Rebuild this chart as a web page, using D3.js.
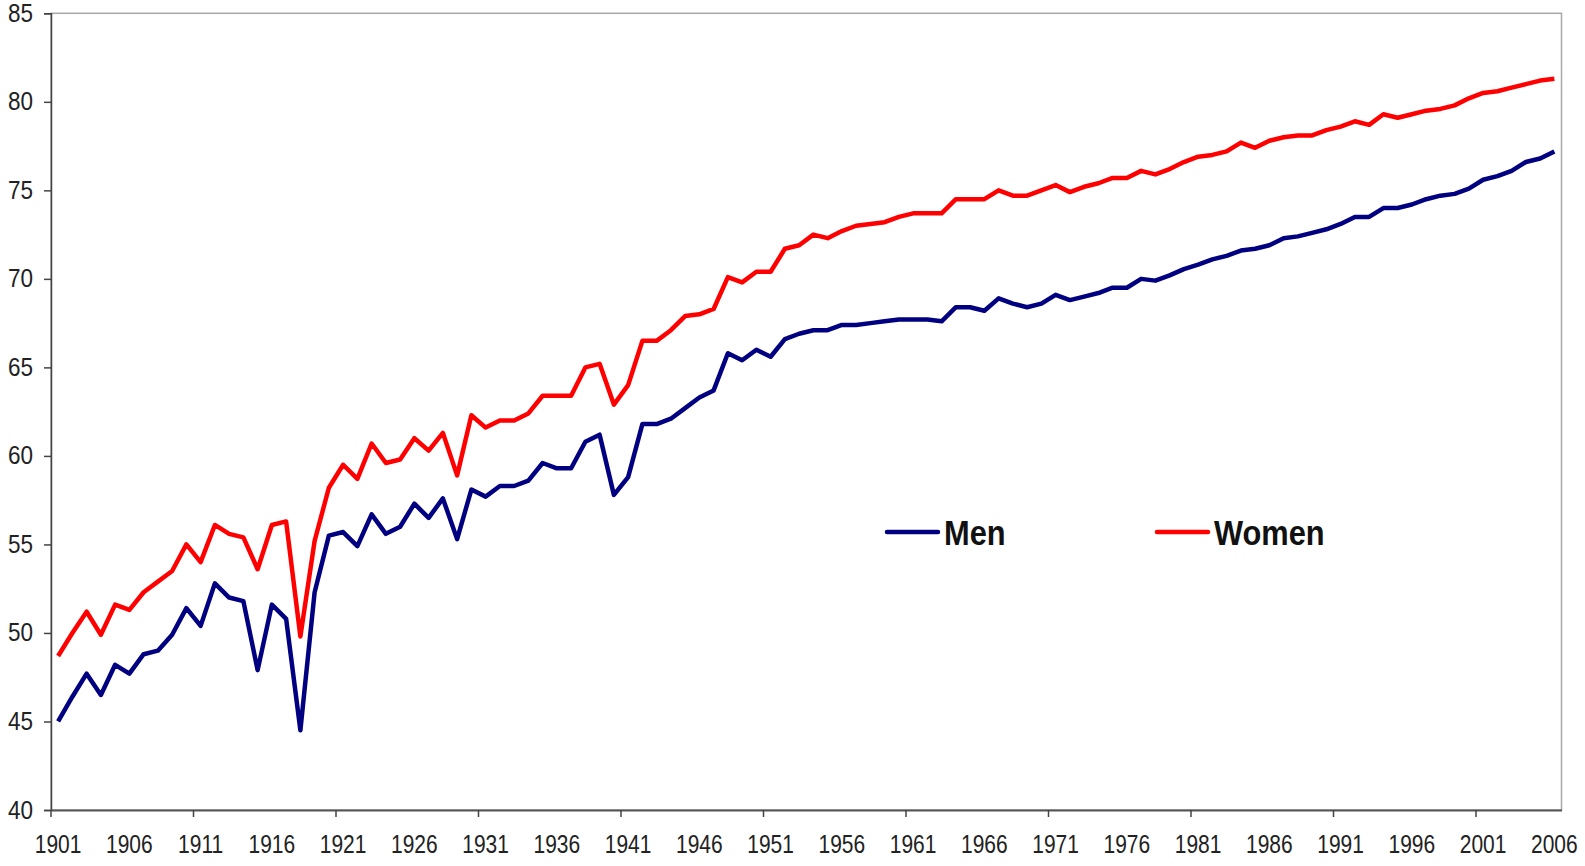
<!DOCTYPE html>
<html>
<head>
<meta charset="utf-8">
<script src="https://cdn.jsdelivr.net/npm/d3@7"></script>
<style>
  body { margin: 0; background: #fff; }
  svg { display: block; font-family: "Liberation Sans", Arial, sans-serif; }
  .tick text { fill: #222; }
</style>
</head>
<body>
<div id="chart"></div>
<script>
// categories: years
let years = [
  1901, 1902, 1903, 1904, 1905, 1906, 1907, 1908, 1909, 1910,
  1911, 1912, 1913, 1914, 1915, 1916, 1917, 1918, 1919, 1920,
  1921, 1922, 1923, 1924, 1925, 1926, 1927, 1928, 1929, 1930,
  1931, 1932, 1933, 1934, 1935, 1936, 1937, 1938, 1939, 1940,
  1941, 1942, 1943, 1944, 1945, 1946, 1947, 1948, 1949, 1950,
  1951, 1952, 1953, 1954, 1955, 1956, 1957, 1958, 1959, 1960,
  1961, 1962, 1963, 1964, 1965, 1966, 1967, 1968, 1969, 1970,
  1971, 1972, 1973, 1974, 1975, 1976, 1977, 1978, 1979, 1980,
  1981, 1982, 1983, 1984, 1985, 1986, 1987, 1988, 1989, 1990,
  1991, 1992, 1993, 1994, 1995, 1996, 1997, 1998, 1999, 2000,
  2001, 2002, 2003, 2004, 2005, 2006
];

let men = [
  45.0, 46.4, 47.7, 46.5, 48.2, 47.7, 48.8, 49.0, 49.9, 51.4,
  50.4, 52.8, 52.0, 51.8, 47.9, 51.6, 50.8, 44.5, 52.3, 55.5,
  55.7, 54.9, 56.7, 55.6, 56.0, 57.3, 56.5, 57.6, 55.3, 58.1,
  57.7, 58.3, 58.3, 58.6, 59.6, 59.3, 59.3, 60.8, 61.2, 57.8,
  58.8, 61.8, 61.8, 62.1, 62.7, 63.3, 63.7, 65.8, 65.4, 66.0,
  65.6, 66.6, 66.9, 67.1, 67.1, 67.4, 67.4, 67.5, 67.6, 67.7,
  67.7, 67.7, 67.6, 68.4, 68.4, 68.2, 68.9, 68.6, 68.4, 68.6,
  69.1, 68.8, 69.0, 69.2, 69.5, 69.5, 70.0, 69.9, 70.2, 70.55,
  70.8, 71.1, 71.3, 71.6, 71.7, 71.9, 72.3, 72.4, 72.6, 72.8,
  73.1, 73.5, 73.5, 74.0, 74.0, 74.2, 74.5, 74.7, 74.8, 75.1,
  75.6, 75.8, 76.1, 76.6, 76.8, 77.2
];

let women = [
  48.7, 50.0, 51.2, 49.9, 51.6, 51.3, 52.3, 52.9, 53.5, 55.0,
  54.0, 56.1, 55.6, 55.4, 53.6, 56.1, 56.3, 49.8, 55.2, 58.2,
  59.5, 58.7, 60.7, 59.6, 59.8, 61.0, 60.3, 61.3, 58.9, 62.3,
  61.6, 62.0, 62.0, 62.4, 63.4, 63.4, 63.4, 65.0, 65.2, 62.9,
  64.0, 66.5, 66.5, 67.1, 67.9, 68.0, 68.3, 70.1, 69.8, 70.4,
  70.4, 71.7, 71.9, 72.5, 72.3, 72.7, 73.0, 73.1, 73.2, 73.5,
  73.7, 73.7, 73.7, 74.5, 74.5, 74.5, 75.0, 74.7, 74.7, 75.0,
  75.3, 74.9, 75.2, 75.4, 75.7, 75.7, 76.1, 75.9, 76.2, 76.6,
  76.9, 77.0, 77.2, 77.7, 77.4, 77.8, 78.0, 78.1, 78.1, 78.4,
  78.6, 78.9, 78.7, 79.3, 79.1, 79.3, 79.5, 79.6, 79.8, 80.2,
  80.5, 80.6, 80.8, 81.0, 81.2, 81.3
];

let yTicks = [40, 45, 50, 55, 60, 65, 70, 75, 80, 85];
let xLabelYears = [1901, 1906, 1911, 1916, 1921, 1926, 1931, 1936, 1941, 1946, 1951,
  1956, 1961, 1966, 1971, 1976, 1981, 1986, 1991, 1996, 2001, 2006];
let xTickYears = [1901, 1911, 1921, 1931, 1941, 1951, 1961, 1971, 1981, 1991, 2001];

let seriesNames = ["Men", "Women"];
let seriesColors = ["#000080", "#ff0000"];

let width = 1585, height = 866;
let plot = {left: 51, right: 1561.5, top: 13.3, bottom: 810};

let svg = d3.select("#chart").append("svg")
    .attr("width", width)
    .attr("height", height);

let x = d3.scaleBand()
    .domain(years)
    .range([plot.left, plot.right])
    .padding(0);

let y = d3.scaleLinear()
    .domain([40, 85])
    .range([plot.bottom, plot.top]);

// plot border (top & right, light gray)
svg.append("rect")
    .attr("x", plot.left)
    .attr("y", plot.top)
    .attr("width", plot.right - plot.left)
    .attr("height", plot.bottom - plot.top)
    .attr("fill", "none")
    .attr("stroke", "#a8a8a8")
    .attr("stroke-width", 1.5);

// y axis
let yAxis = svg.append("g")
    .attr("transform", "translate(" + plot.left + ",0)")
    .call(d3.axisLeft(y).tickValues(yTicks).tickSize(7).tickPadding(9).tickFormat(d3.format("d")));
yAxis.select(".domain").attr("stroke", "#444").attr("stroke-width", 1.5);
yAxis.selectAll(".tick line").attr("stroke", "#444").attr("stroke-width", 1.5);
yAxis.selectAll(".tick text")
    .attr("font-size", 25)
    .attr("transform", "scale(0.9,1)")
    .attr("x", -18 / 0.9);

// x axis: labels every 5 years, centred on the category
let xAxis = svg.append("g")
    .attr("transform", "translate(0," + plot.bottom + ")")
    .call(d3.axisBottom(x).tickValues(xLabelYears).tickSize(0).tickPadding(25));
xAxis.select(".domain").attr("stroke", "#555").attr("stroke-width", 2);
xAxis.selectAll(".tick text")
    .attr("font-size", 25)
    .attr("transform", "scale(0.84,1)");

// x tick marks at category boundaries every 10 years
svg.append("g").selectAll("line")
    .data(xTickYears)
    .enter().append("line")
    .attr("x1", d => x(d))
    .attr("x2", d => x(d))
    .attr("y1", plot.bottom)
    .attr("y2", plot.bottom + 7)
    .attr("stroke", "#444")
    .attr("stroke-width", 1.5);

// lines
let line = d3.line()
    .x((d, i) => x(years[i]) + x.bandwidth() / 2)
    .y(d => y(d));

[men, women].forEach(function(s, i) {
    svg.append("path")
        .datum(s)
        .attr("d", line)
        .attr("fill", "none")
        .attr("stroke", seriesColors[i])
        .attr("stroke-width", 4.5)
        .attr("stroke-linejoin", "round");
});

// legend
let legendPos = [{x: 887, y: 532}, {x: 1157, y: 532}];
seriesNames.forEach(function(name, i) {
    let g = svg.append("g")
        .attr("transform", "translate(" + legendPos[i].x + "," + legendPos[i].y + ")");
    g.append("line")
        .attr("x1", 0).attr("x2", 51)
        .attr("y1", 0).attr("y2", 0)
        .attr("stroke", seriesColors[i])
        .attr("stroke-width", 4.5)
        .attr("stroke-linecap", "round");
    g.append("text")
        .attr("transform", "translate(57,13) scale(0.88,1)")
        .attr("font-size", 35)
        .attr("font-weight", "bold")
        .attr("fill", "#111")
        .text(name);
});
</script>
</body>
</html>
